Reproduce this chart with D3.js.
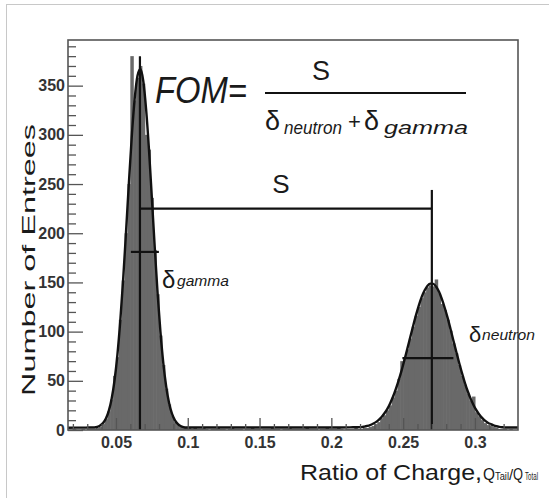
<!DOCTYPE html>
<html><head><meta charset="utf-8">
<script src="https://cdn.jsdelivr.net/npm/d3@7"></script>
<style>
body{margin:0;background:#fff;}
svg{display:block;}
text{font-family:"Liberation Sans",Arial,Helvetica,sans-serif;}
</style>
</head><body>
<svg id="c" width="549" height="498"></svg>
<script>
// ---------------- data ----------------
const binStart = 0.018, binWidth = 0.002;
const counts = [
  0,1,0,0,1,0,1,1,
  1,2,3,6,11,19,31,55,74,112,152,200,250,380,335,358,370,352,300,285,236,183,138,96,66,42,26,15,8,5,3,2,
  2,2,1,2,1,1,2,1,0,1, 1,2,1,1,0,1,2,1,1,1, 0,1,1,2,1,1,0,1,1,1, 2,1,1,0,1,1,2,1,1,1,
  1,1,2,1,1,1,0,1,1,2, 1,1,1,2,1,0,1,1,1,2, 1,
  1,2,2,3,4,6,8,12,15,20, 25,33,40,52,70,72,82,93,105,116,
  125,134,140,145,147,146,153,139,128,122, 112,101,88,78,66,55,46,37,30,34,
  18,14,10,7,5,4,3,2,1,1, 1,0,1,0,0
];
const fitCurve = [
  [0.0166,2.3],[0.022,2.4],[0.027,2.4],[0.031,2.5],[0.033,2.5],
  [0.035,2.6],[0.037,3.2],[0.039,4.6],[0.041,7.1],[0.043,11.7],[0.045,19.5],[0.047,31.8],[0.049,50.3],
  [0.051,76.4],[0.053,110.6],[0.055,152.8],[0.057,201],[0.059,251],[0.061,298],[0.063,336],[0.065,360],
  [0.067,367],[0.069,355],[0.071,326],[0.073,285],[0.075,236],[0.077,186],[0.079,139],[0.081,99.5],
  [0.083,67.7],[0.085,44],[0.087,27.5],[0.089,16.7],[0.091,10.1],[0.093,6.2],[0.095,4.1],[0.097,3],[0.099,2.5],
  [0.103,2.5],[0.12,2.5],[0.15,2.5],[0.18,2.5],[0.205,2.6],[0.213,2.7],[0.217,2.8],
  [0.221,2.9],[0.223,3.4],[0.225,4.1],[0.227,5.0],[0.229,6.3],[0.231,8.0],[0.233,10.3],[0.235,13.2],[0.237,17],[0.239,21.5],
  [0.241,27.3],[0.243,34],[0.245,42],[0.247,51],[0.249,60.9],[0.251,71.7],[0.253,83],[0.255,94.6],[0.257,106],[0.259,117],
  [0.261,127],[0.263,135.6],[0.265,142],[0.267,146.7],[0.269,148.8],[0.271,148.5],[0.273,145.6],[0.275,140.5],[0.277,133],[0.279,124],
  [0.281,114],[0.283,102.7],[0.285,91],[0.287,79.6],[0.289,68.3],[0.291,57.8],[0.293,48],[0.295,39.4],[0.297,31.9],[0.299,25.5],
  [0.301,20.1],[0.303,15.8],[0.305,12.3],[0.307,9.5],[0.309,7.4],[0.311,5.9],[0.313,4.7],[0.315,3.8],[0.317,3.2],[0.319,2.8],
  [0.323,2.5],[0.330,2.5]
];
const xTickValues = [0.05,0.1,0.15,0.2,0.25,0.3];
const xTickLabels = ["0.05","0.1","0.15","0.2","0.25","0.3"];
const xMinorTicks = [0.02,0.03,0.04,0.06,0.07,0.08,0.09,0.11,0.12,0.13,0.14,0.16,0.17,0.18,0.19,0.21,0.22,0.23,0.24,0.26,0.27,0.28,0.29,0.31,0.32];
const yTickValues = [0,50,100,150,200,250,300,350];
const yMinorTicks = [10,20,30,40,60,70,80,90,110,120,130,140,160,170,180,190,210,220,230,240,260,270,280,290,310,320,330,340,360,370,380,390];
const gammaMean = 0.0667, neutronMean = 0.2700;
const gammaTop = 380, neutronTop = 244, sLevel = 225;
const gammaFWHM = [0.0604, 0.0799], gammaHalf = 181;
const neutronFWHM = [0.2495, 0.2850], neutronHalf = 73;

// ---------------- layout ----------------
const L = 68, R = 518, T = 40, B = 430;
const svg = d3.select("#c");
const x = d3.scaleLinear().domain([0.0166, 0.330]).range([L, R]);
const y = d3.scaleLinear().domain([0, 396.4]).range([B, T]);

// outer light border
svg.append("rect").attr("x",6.5).attr("y",4.5).attr("width",600).attr("height",600)
  .attr("fill","#fff").attr("stroke","#c8c8c8").attr("stroke-width",1);

svg.append("clipPath").attr("id","clip").append("rect")
  .attr("x",L).attr("y",T).attr("width",R-L).attr("height",B-T);

const plot = svg.append("g").attr("clip-path","url(#clip)");

// histogram bars
plot.selectAll("rect.bar").data(counts).join("rect").attr("class","bar")
  .attr("x",(d,i)=>x(binStart+i*binWidth))
  .attr("width",(d,i)=>x(binStart+(i+1)*binWidth)-x(binStart+i*binWidth)+0.6)
  .attr("y",d=>y(d)).attr("height",d=>B-y(d))
  .attr("fill","#696969");

// fit curve
plot.append("path").datum(fitCurve)
  .attr("d", d3.line().x(d=>x(d[0])).y(d=>y(d[1])).curve(d3.curveMonotoneX))
  .attr("fill","none").attr("stroke","#111").attr("stroke-width",2.4);

// annotation lines
const ann = svg.append("g").attr("stroke","#111").attr("stroke-width",2.2);
ann.append("line").attr("x1",x(gammaMean)).attr("x2",x(gammaMean)).attr("y1",y(0)).attr("y2",y(gammaTop));
ann.append("line").attr("x1",x(neutronMean)).attr("x2",x(neutronMean)).attr("y1",y(0)).attr("y2",y(neutronTop));
ann.append("line").attr("x1",x(gammaMean)).attr("x2",x(neutronMean)).attr("y1",y(sLevel)).attr("y2",y(sLevel));
ann.append("line").attr("x1",x(gammaFWHM[0])).attr("x2",x(gammaFWHM[1])).attr("y1",y(gammaHalf)).attr("y2",y(gammaHalf));
ann.append("line").attr("x1",x(neutronFWHM[0])).attr("x2",x(neutronFWHM[1])).attr("y1",y(neutronHalf)).attr("y2",y(neutronHalf));

// axes
const xAxis = svg.append("g").attr("transform",`translate(0,${B})`)
  .call(d3.axisBottom(x).tickValues(xTickValues).tickSize(-12).tickPadding(7).tickFormat((d,i)=>xTickLabels[i]));
svg.append("g").attr("transform",`translate(0,${B})`)
  .call(d3.axisBottom(x).tickValues(xMinorTicks).tickSize(-6).tickFormat(""));
const yAxis = svg.append("g").attr("transform",`translate(${L},0)`)
  .call(d3.axisLeft(y).tickValues(yTickValues).tickSize(-15).tickPadding(3));
svg.append("g").attr("transform",`translate(${L},0)`)
  .call(d3.axisLeft(y).tickValues(yMinorTicks).tickSize(-8).tickFormat(""));
svg.selectAll(".domain").remove();
svg.selectAll(".tick line").attr("stroke","#555").attr("stroke-width",1.3);
svg.selectAll(".tick text").attr("fill","#333").attr("font-weight","bold")
  .attr("font-family","'Liberation Sans',Arial,sans-serif");
xAxis.selectAll(".tick text").attr("font-size",16);
yAxis.selectAll(".tick text").attr("font-size",16);

// frame
svg.append("rect").attr("x",L).attr("y",T).attr("width",R-L).attr("height",B-T)
  .attr("fill","none").attr("stroke","#555").attr("stroke-width",1.6);

// texts
function txt(s, xx, yy, size, opts={}) {
  const t = svg.append("text").attr("x",xx).attr("y",yy).attr("font-size",size)
    .attr("fill", opts.fill || "#1a1a1a").text(s);
  if (opts.italic) t.attr("font-style","italic");
  if (opts.anchor) t.attr("text-anchor",opts.anchor);
  if (opts.len) t.attr("textLength",opts.len).attr("lengthAdjust","spacingAndGlyphs");
  return t;
}
txt("FOM=",155,103,36,{italic:true,len:92});
txt("S",321,80,27,{anchor:"middle"});
svg.append("line").attr("x1",265).attr("x2",466).attr("y1",93).attr("y2",93)
  .attr("stroke","#111").attr("stroke-width",2);
txt("δ",265,130,27);
txt("neutron",284,134,19,{italic:true,len:58});
txt("+",348,129,22);
txt("δ",364,130,27);
txt("gamma",384,134,19,{italic:true,len:84});
txt("S",281,193,26,{anchor:"middle"});
txt("δ",162,288,24);
txt("gamma",177,286,15,{italic:true,len:52});
txt("δ",469,342,22);
txt("neutron",482,340,15,{italic:true,len:53});

svg.append("text").attr("transform","translate(35,260) rotate(-90)")
  .attr("text-anchor","middle").attr("font-size",19).attr("fill","#1a1a1a")
  .attr("textLength",272).attr("lengthAdjust","spacingAndGlyphs")
  .text("Number of Entrees");

txt("Ratio of Charge, ",300,480,22,{len:182});
txt("Q",483,480,17,{len:12});
txt("Tail",495,480,10,{len:14});
txt("/",509,480,15);
txt("Q",513,480,17,{len:10});
txt("Total",525,480,10,{len:13});
</script>
</body></html>
